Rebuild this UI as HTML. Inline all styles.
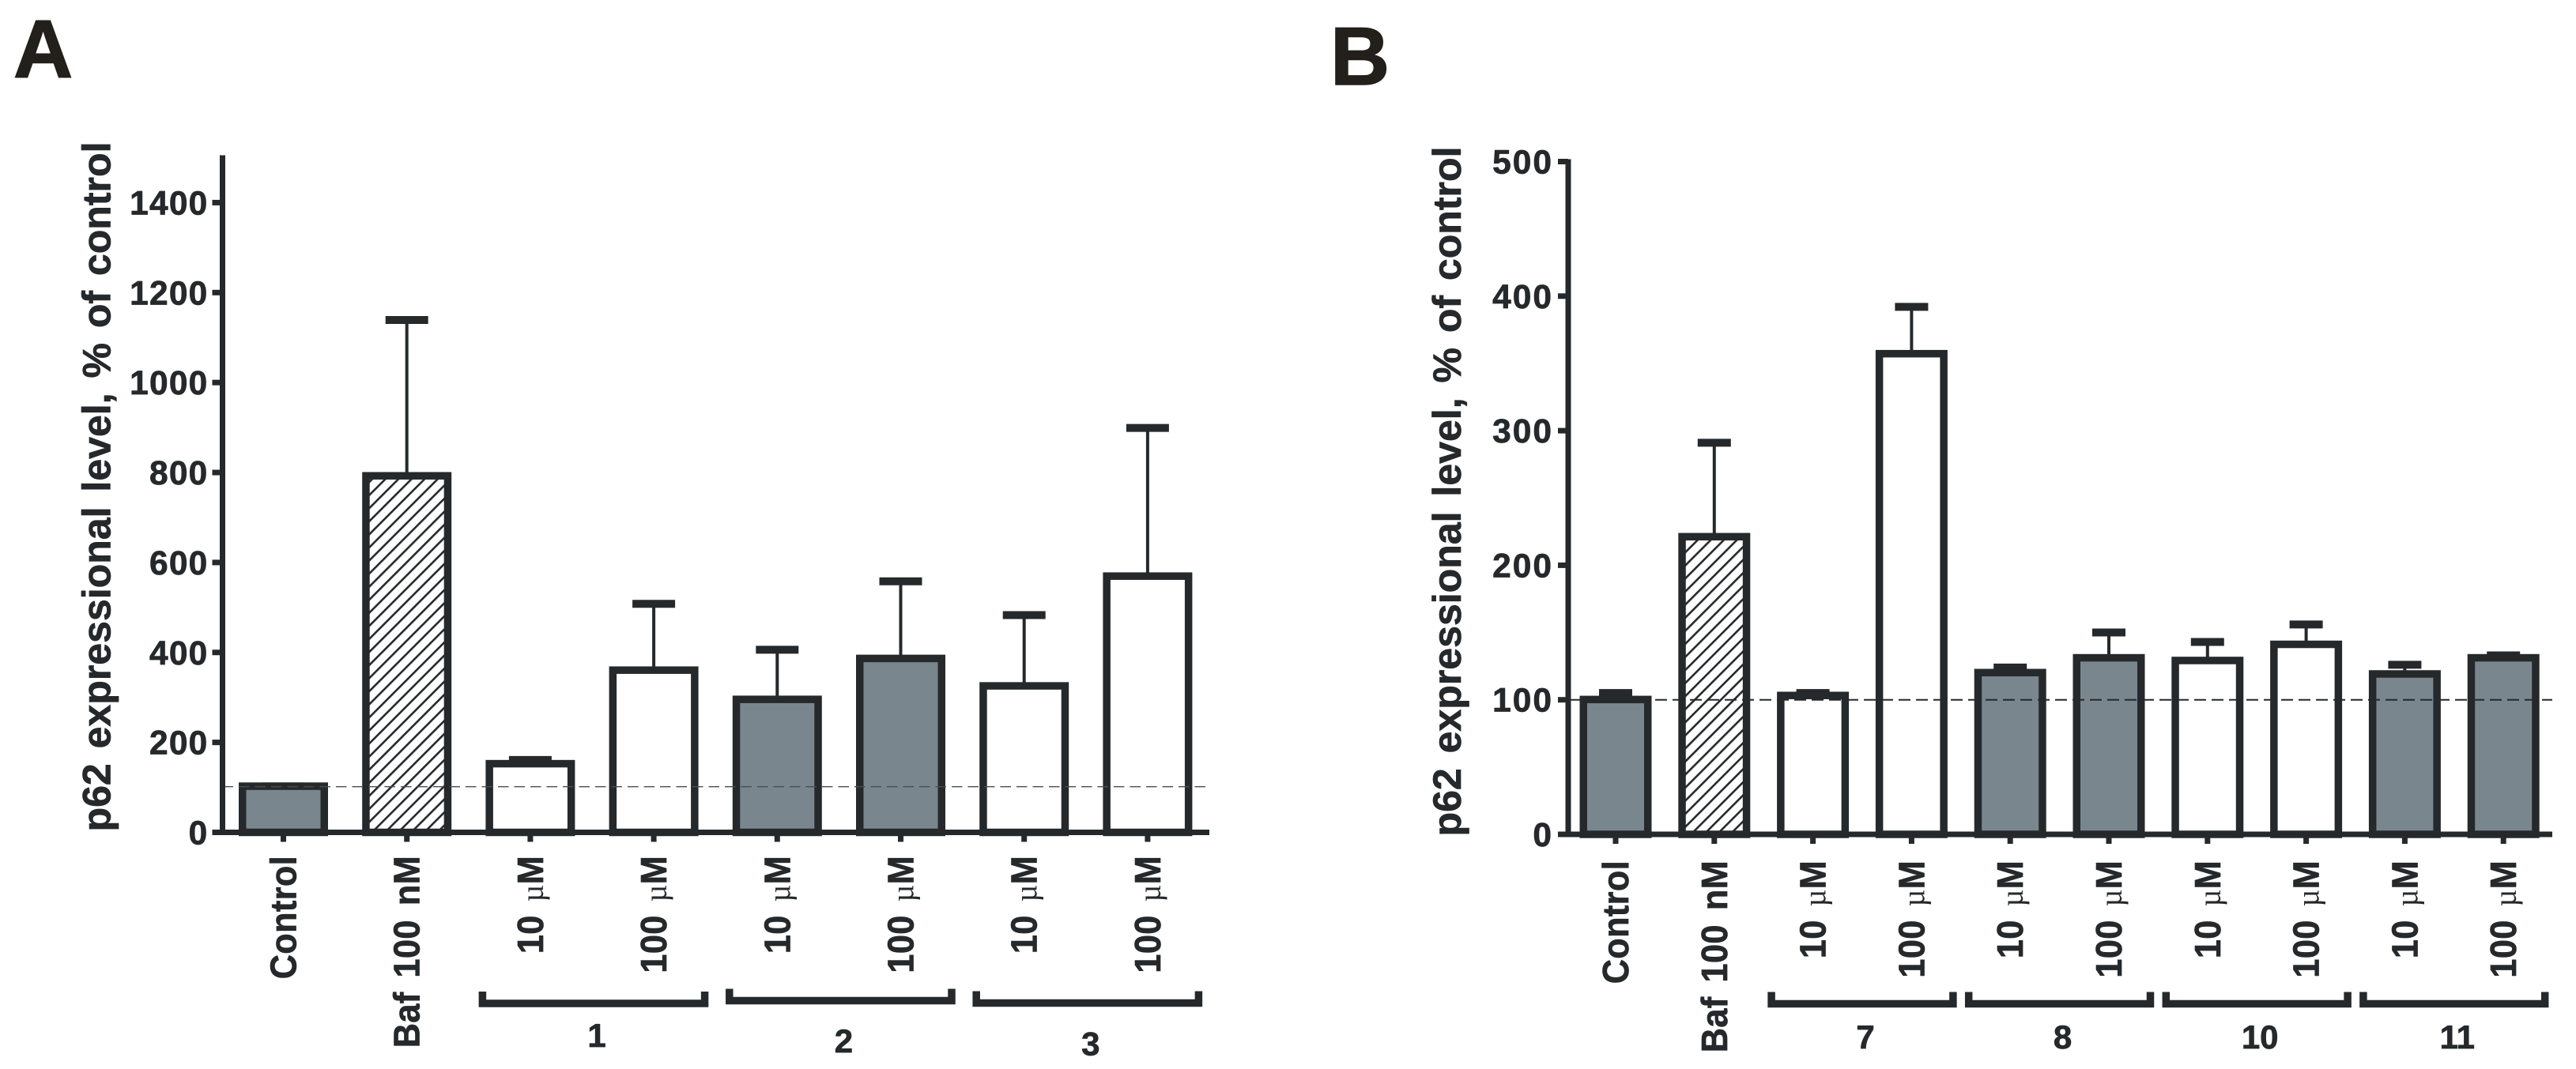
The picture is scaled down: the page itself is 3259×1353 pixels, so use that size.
<!DOCTYPE html>
<html lang="en">
<head>
<meta charset="utf-8">
<title>p62 expressional level</title>
<style>
html,body{margin:0;padding:0;background:#fff;}
svg{display:block;}
text{font-family:"Liberation Sans",sans-serif;font-weight:bold;fill:#25292b;stroke:#25292b;stroke-width:0.7px;}
</style>
</head>
<body>
<svg id="figure" xmlns="http://www.w3.org/2000/svg" width="3259" height="1353" viewBox="0 0 3259 1353">
  <defs>
    <pattern id="hatch" patternUnits="userSpaceOnUse" width="11.7" height="11.7" patternTransform="rotate(45)">
      <rect width="11.7" height="11.7" fill="#fff"></rect>
      <line x1="0" y1="0" x2="0" y2="11.7" stroke="#25292b" stroke-width="5.2"></line>
    </pattern>
  </defs>
  <rect width="3259" height="1353" fill="#fff"></rect>
  <text x="17" y="98" font-size="104" style="fill:#231f1b;stroke:#231f1b;stroke-width:1.5px">A</text>
  <text x="1683" y="107" font-size="104" style="fill:#231f1b;stroke:#231f1b;stroke-width:1.5px">B</text>
  <text transform="translate(139.5,1052.5) rotate(-90)" font-size="50.5" word-spacing="5" textLength="873" lengthAdjust="spacingAndGlyphs">p62 expressional level, % of control</text>
  <text transform="translate(1848,1058.5) rotate(-90)" font-size="50.5" word-spacing="5" textLength="873" lengthAdjust="spacingAndGlyphs">p62 expressional level, % of control</text>
  <g id="panelA"></g>
  <g id="panelB"></g>
</svg>
<script>
// Panel A data
const categoriesA = ['Control', 'Baf 100 nM', '10 µM', '100 µM', '10 µM', '100 µM', '10 µM', '100 µM'];
const barValuesA = [111, 801, 161, 369, 304, 395, 334, 578];
const errorTopsA = [102, 1139, 161, 508, 406, 558, 483, 899];
const barKindsA = ['solid', 'hatch', 'open', 'open', 'solid', 'solid', 'open', 'open'];
const tickValuesA = [0, 200, 400, 600, 800, 1000, 1200, 1400];
const groupNamesA = ['1', '2', '3'];
const groupStartsA = [2, 4, 6];
const referenceValueA = 101.5;

// Panel B data
const categoriesB = ['Control', 'Baf 100 nM', '10 µM', '100 µM', '10 µM', '100 µM', '10 µM', '100 µM', '10 µM', '100 µM'];
const barValuesB = [103, 224, 106, 360, 123, 134, 132, 144, 122, 134];
const errorTopsB = [105, 291, 105, 392, 124, 150, 143, 156, 126, 133];
const barKindsB = ['solid', 'hatch', 'open', 'open', 'solid', 'solid', 'open', 'open', 'solid', 'solid'];
const tickValuesB = [0, 100, 200, 300, 400, 500];
const groupNamesB = ['7', '8', '10', '11'];
const groupStartsB = [2, 4, 6, 8];
const referenceValueB = 100;

const NS = 'http://www.w3.org/2000/svg';
const INK = '#25292b';
const GRAY = '#7a868e';

function make(parent, tag, props) {
  const el = document.createElementNS(NS, tag);
  for (const key in props) el.setAttribute(key, props[key]);
  parent.appendChild(el);
  return el;
}

function drawPanel(cfg) {
  const root = document.getElementById(cfg.id);
  const yScale = v => cfg.y0 - v * (cfg.y0 - cfg.yTop) / cfg.domainMax;
  const xScale = i => cfg.x0 + i * cfg.step;
  const sw = 9.5;

  // error bars (behind the bars)
  cfg.errors.forEach((e, i) => {
    const cx = xScale(i);
    const stem = make(root, 'line', {x1: cx, x2: cx, y1: yScale(e), y2: yScale(cfg.values[i]) + 4, stroke: INK, 'stroke-width': 4});
    
    
    const cap = make(root, 'line', {x1: cx - cfg.capWidth / 2, x2: cx + cfg.capWidth / 2, y1: yScale(e), y2: yScale(e), stroke: INK, 'stroke-width': 10});
    
    
  });

  // bars
  cfg.values.forEach((v, i) => {
    const kind = cfg.kinds[i];
    const fill = kind === 'solid' ? GRAY : kind === 'hatch' ? 'url(#hatch)' : '#fff';
    const top = yScale(v) + sw / 2;
    const bar = make(root, 'rect', {
      x: xScale(i) - cfg.barWidth / 2 + sw / 2,
      y: top,
      width: cfg.barWidth - sw,
      height: cfg.y0 - top,
      fill: fill,
      stroke: INK,
      'stroke-width': sw
    });
    
    
  });

  // reference line
  const ref = make(root, 'line', {
    x1: cfg.axisX, x2: cfg.xEnd, y1: yScale(cfg.reference), y2: yScale(cfg.reference),
    stroke: cfg.refColor, 'stroke-width': cfg.refWidth, 'stroke-dasharray': cfg.refDash
  });
  
  

  // y axis
  const yAxis = make(root, 'line', {x1: cfg.axisX, x2: cfg.axisX, y1: cfg.yTop - 3, y2: cfg.y0 + 3, stroke: INK, 'stroke-width': 7});
  
  

  cfg.ticks.forEach(t => {
    const ty = yScale(t);
    const tick = make(root, 'line', {x1: cfg.axisX - 13, x2: cfg.axisX, y1: ty, y2: ty, stroke: INK, 'stroke-width': 7});
    
    
    const label = make(root, 'text', {x: cfg.axisX - cfg.tickGap, y: ty + 15, 'font-size': 42.5, 'text-anchor': 'end', 'letter-spacing': cfg.tickSpacing});
    
    
    label.textContent = String(t);
  });

  // x axis
  const xAxis = make(root, 'line', {x1: cfg.axisX - 13, x2: cfg.xEnd, y1: cfg.y0, y2: cfg.y0, stroke: INK, 'stroke-width': 7});
  
  

  // x ticks and rotated category labels
  cfg.categories.forEach((name, i) => {
    const cx = xScale(i);
    const tick = make(root, 'line', {x1: cx, x2: cx, y1: cfg.y0, y2: cfg.y0 + 12, stroke: INK, 'stroke-width': 7});
    
    

    const label = make(root, 'text', {
      transform: 'translate(' + (cx + 16) + ',' + cfg.labelTop + ') rotate(-90) scale(0.94,1)',
      'font-size': 46,
      'text-anchor': 'end',
      'word-spacing': 6,
      'letter-spacing': 0.4
    });
    
    
    if (name.indexOf('µ') >= 0) {
      const parts = name.split(' ');
      label.appendChild(document.createTextNode(parts[0]));
      const mu = make(label, 'tspan', {dx: 18, 'font-size': 40, style: 'font-family:"Liberation Serif",serif;font-weight:normal;stroke:none'});
      mu.textContent = 'µ';
      const unit = make(label, 'tspan', {dx: 0});
      unit.textContent = 'M';
    } else {
      label.textContent = name;
    }
  });

  // group brackets and labels
  cfg.groupNames.forEach((name, g) => {
    const first = cfg.groupStarts[g];
    const x0 = xScale(first) - cfg.bracketLeft;
    const x1 = xScale(first + 1) + cfg.bracketRight;
    const by = cfg.bracketY[g];
    const bracket = make(root, 'path', {
      d: 'M' + (x0 + 4.5) + ' ' + (by - 15) + 'V' + by + 'H' + (x1 - 4.5) + 'V' + (by - 15),
      fill: 'none', stroke: INK, 'stroke-width': 9.5
    });
    
    
    const label = make(root, 'text', {x: (x0 + x1) / 2 + 4, y: cfg.groupLabelY[g], 'font-size': 42, 'text-anchor': 'middle'});
    
    
    label.textContent = name;
  });
}

drawPanel({
  id: 'panelA', key: 'a',
  categories: categoriesA, values: barValuesA, errors: errorTopsA, kinds: barKindsA,
  ticks: tickValuesA, groupNames: groupNamesA, groupStarts: groupStartsA, reference: referenceValueA,
  domainMax: 1500, y0: 1053.5, yTop: 199.5, axisX: 281.5, xEnd: 1530,
  x0: 358.5, step: 156.2, barWidth: 113, capWidth: 54,
  tickGap: 18, tickSpacing: 1.2, labelTop: 1083,
  refColor: '#4a4e50', refWidth: 1.4, refDash: '13.5 7',
  bracketLeft: 65, bracketRight: 69, bracketY: [1270, 1266.5, 1269.5], groupLabelY: [1325, 1332, 1335.5]
});

drawPanel({
  id: 'panelB', key: 'b',
  categories: categoriesB, values: barValuesB, errors: errorTopsB, kinds: barKindsB,
  ticks: tickValuesB, groupNames: groupNamesB, groupStarts: groupStartsB, reference: referenceValueB,
  domainMax: 500, y0: 1056, yTop: 204.5, axisX: 1984, xEnd: 3229,
  x0: 2044, step: 124.8, barWidth: 91, capWidth: 42,
  tickGap: 19, tickSpacing: 2, labelTop: 1089,
  refColor: '#25292b', refWidth: 2, refDash: '15 7',
  bracketLeft: 57, bracketRight: 57, bracketY: [1270.5, 1270.5, 1270.5, 1270.5], groupLabelY: [1327, 1327, 1327, 1327]
});
</script>
</body>
</html>
